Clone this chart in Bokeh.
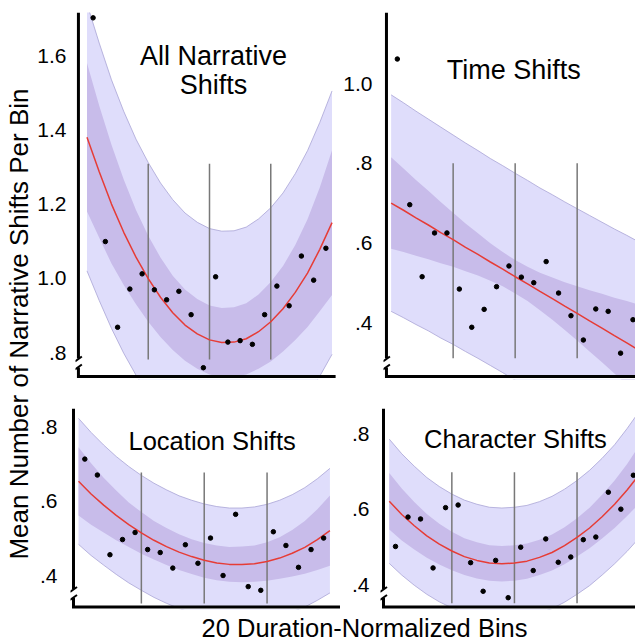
import math
from bokeh.plotting import figure
from bokeh.layouts import row, column
from bokeh.models import Range1d, FixedTicker, CustomJSTickFormatter
from bokeh.embed import file_html
from bokeh.resources import INLINE
from bokeh.core.properties import value

# ------------------------------------------------------------------ data
bins = list(range(1, 21))
curve_bins = [0.5, 1.5, 2.5, 3.5, 4.5, 5.5, 6.5, 7.5, 8.5, 9.5, 10.5,
              11.5, 12.5, 13.5, 14.5, 15.5, 16.5, 17.5, 18.5, 19.5, 20.5]
quarter_splits = [5.5, 10.5, 15.5]

all_means = [1.702, 1.099, 0.868, 0.971, 1.012, 0.969, 0.942, 0.965, 0.902, 0.759,
             1.004, 0.828, 0.832, 0.822, 0.902, 0.979, 0.926, 1.060, 0.995, 1.081]
all_fit = [1.380, 1.287, 1.200, 1.124, 1.057, 0.999, 0.949, 0.907, 0.874, 0.850, 0.834,
           0.827, 0.828, 0.837, 0.856, 0.883, 0.918, 0.962, 1.014, 1.078, 1.150]
all_ci_lo = [1.180, 1.109, 1.040, 0.982, 0.930, 0.883, 0.842, 0.807, 0.778, 0.756, 0.741,
             0.734, 0.734, 0.741, 0.756, 0.776, 0.803, 0.834, 0.869, 0.911, 0.955]
all_ci_hi = [1.580, 1.465, 1.360, 1.266, 1.184, 1.115, 1.056, 1.007, 0.970, 0.944, 0.927,
             0.920, 0.922, 0.933, 0.956, 0.990, 1.033, 1.090, 1.159, 1.245, 1.345]
all_pi_lo = [1.020, 0.940, 0.865, 0.798, 0.739, 0.686, 0.641, 0.602, 0.572, 0.549, 0.534,
             0.527, 0.528, 0.536, 0.552, 0.576, 0.606, 0.642, 0.684, 0.736, 0.795]
all_pi_hi = [1.740, 1.634, 1.535, 1.450, 1.375, 1.312, 1.257, 1.212, 1.176, 1.151, 1.134,
             1.127, 1.128, 1.138, 1.160, 1.190, 1.230, 1.282, 1.344, 1.420, 1.505]
all_ticks = [0.8, 1.0, 1.2, 1.4, 1.6]
all_split_span = [0.781, 1.309]
all_title = ["All Narrative", "Shifts"]

time_means = [1.062, 0.696, 0.515, 0.625, 0.625, 0.484, 0.388, 0.433, 0.490, 0.542,
              0.514, 0.500, 0.553, 0.474, 0.417, 0.356, 0.434, 0.428, 0.323, 0.407]
time_fit = [0.700, 0.682, 0.663, 0.645, 0.626, 0.608, 0.589, 0.571, 0.552, 0.534, 0.515,
            0.497, 0.478, 0.460, 0.441, 0.423, 0.404, 0.386, 0.367, 0.349, 0.330]
time_ci_lo = [0.585, 0.577, 0.568, 0.559, 0.549, 0.540, 0.529, 0.518, 0.505, 0.491, 0.473,
              0.454, 0.431, 0.407, 0.381, 0.355, 0.327, 0.300, 0.272, 0.244, 0.215]
time_ci_hi = [0.815, 0.787, 0.758, 0.731, 0.703, 0.676, 0.649, 0.624, 0.599, 0.577, 0.557,
              0.540, 0.525, 0.513, 0.501, 0.491, 0.481, 0.472, 0.462, 0.454, 0.445]
time_pi_lo = [0.428, 0.412, 0.395, 0.379, 0.361, 0.345, 0.327, 0.310, 0.292, 0.274, 0.255,
              0.237, 0.218, 0.199, 0.179, 0.160, 0.139, 0.120, 0.099, 0.079, 0.058]
time_pi_hi = [0.972, 0.952, 0.931, 0.911, 0.891, 0.871, 0.851, 0.832, 0.812, 0.794, 0.775,
              0.757, 0.738, 0.721, 0.703, 0.686, 0.669, 0.652, 0.635, 0.619, 0.602]
time_ticks = [0.4, 0.6, 0.8, 1.0]
time_split_span = [0.310, 0.800]
time_title = ["Time Shifts"]

loc_means = [0.714, 0.671, 0.456, 0.497, 0.516, 0.470, 0.462, 0.420, 0.483, 0.433,
             0.501, 0.400, 0.565, 0.370, 0.360, 0.518, 0.481, 0.422, 0.470, 0.501]
loc_fit = [0.654, 0.620, 0.590, 0.562, 0.537, 0.515, 0.495, 0.478, 0.463, 0.451, 0.441,
           0.434, 0.430, 0.430, 0.432, 0.438, 0.447, 0.460, 0.476, 0.497, 0.521]
loc_ci_lo = [0.562, 0.537, 0.516, 0.495, 0.477, 0.459, 0.443, 0.428, 0.415, 0.404, 0.394,
             0.387, 0.383, 0.382, 0.383, 0.386, 0.391, 0.397, 0.405, 0.415, 0.426]
loc_ci_hi = [0.746, 0.703, 0.664, 0.629, 0.597, 0.571, 0.547, 0.528, 0.511, 0.498, 0.488,
             0.481, 0.477, 0.478, 0.481, 0.490, 0.503, 0.523, 0.547, 0.579, 0.616]
loc_pi_lo = [0.484, 0.454, 0.428, 0.403, 0.380, 0.360, 0.341, 0.325, 0.311, 0.299, 0.289,
             0.282, 0.278, 0.278, 0.279, 0.284, 0.291, 0.302, 0.315, 0.333, 0.353]
loc_pi_hi = [0.824, 0.786, 0.752, 0.721, 0.694, 0.670, 0.649, 0.631, 0.615, 0.603, 0.593,
             0.586, 0.582, 0.582, 0.585, 0.592, 0.603, 0.618, 0.637, 0.661, 0.689]
loc_ticks = [0.4, 0.6, 0.8]
loc_split_span = [0.3245, 0.678]
loc_title = ["Location Shifts"]

char_means = [0.501, 0.579, 0.574, 0.444, 0.604, 0.611, 0.458, 0.382, 0.464, 0.365,
              0.499, 0.437, 0.521, 0.459, 0.473, 0.519, 0.526, 0.645, 0.600, 0.690]
char_fit = [0.621, 0.586, 0.556, 0.529, 0.507, 0.489, 0.474, 0.464, 0.457, 0.455, 0.457,
            0.462, 0.472, 0.485, 0.503, 0.525, 0.550, 0.580, 0.613, 0.651, 0.693]
char_ci_lo = [0.546, 0.517, 0.493, 0.471, 0.453, 0.438, 0.425, 0.416, 0.410, 0.408, 0.410,
              0.415, 0.425, 0.437, 0.454, 0.474, 0.496, 0.522, 0.550, 0.582, 0.616]
char_ci_hi = [0.696, 0.655, 0.619, 0.587, 0.561, 0.540, 0.523, 0.512, 0.504, 0.502, 0.504,
              0.509, 0.519, 0.533, 0.552, 0.576, 0.604, 0.638, 0.676, 0.720, 0.770]
char_pi_lo = [0.456, 0.425, 0.398, 0.374, 0.354, 0.338, 0.324, 0.315, 0.309, 0.307, 0.309,
              0.314, 0.324, 0.336, 0.353, 0.374, 0.397, 0.425, 0.455, 0.488, 0.525]
char_pi_hi = [0.786, 0.747, 0.714, 0.684, 0.660, 0.640, 0.624, 0.613, 0.605, 0.603, 0.605,
              0.610, 0.620, 0.634, 0.653, 0.676, 0.703, 0.735, 0.771, 0.814, 0.861]
char_ticks = [0.4, 0.6, 0.8]
char_split_span = [0.350, 0.698]
char_title = ["Character Shifts"]

y_label = "Mean Number of Narrative Shifts Per Bin"
x_label = "20 Duration-Normalized Bins"

# ------------------------------------------------------------------ styles
FONT = "Liberation Sans"
LIGHT = "#dfddfb"
DARK = "#c8bcea"
EDGE = "#aaa5d6"
RED = "#e63c36"
SPLIT = "#787878"


def make_panel(g, means, fit, ci_lo, ci_hi, pi_lo, pi_hi, ticks, split_span,
               title_lines, title_size):
    fl, ft, fr, fb = g["frame"]
    ox, oy, w, h = g["fig"]
    x0 = 1 + (fl - g["bin1_px"]) / g["ppb"]
    x1 = 1 + (fr - g["bin1_px"]) / g["ppb"]
    y1 = g["ref_v"] + (g["ref_py"] - ft) / g["ppv"]
    y0 = g["ref_v"] - (fb - g["ref_py"]) / g["ppv"]

    def X(px):
        return x0 + (px - fl) / (fr - fl) * (x1 - x0)

    def Y(py):
        return y1 - (py - ft) / (fb - ft) * (y1 - y0)

    p = figure(width=w, height=h, x_range=Range1d(x0, x1), y_range=Range1d(y0, y1),
               output_backend="svg", toolbar_location=None, x_axis_location=None,
               min_border_left=fl - ox, min_border_right=ox + w - fr,
               min_border_top=ft - oy, min_border_bottom=oy + h - fb)
    p.outline_line_color = None
    p.grid.visible = False
    p.background_fill_color = "white"
    p.border_fill_color = "white"

    ax = p.yaxis[0]
    ax.ticker = FixedTicker(ticks=ticks)
    ax.formatter = CustomJSTickFormatter(
        code="const s = tick.toFixed(1); return tick < 0.999 ? s.substring(1) : s;")
    ax.axis_line_color = None
    ax.major_tick_line_color = None
    ax.minor_tick_line_color = None
    ax.major_label_text_font = FONT
    ax.major_label_text_font_size = "21px"
    ax.major_label_text_color = "black"
    ax.major_label_standoff = g["standoff"]

    # bands
    p.varea(x=curve_bins, y1=pi_lo, y2=pi_hi, fill_color=LIGHT, fill_alpha=1.0)
    p.line(curve_bins, pi_hi, line_color=EDGE, line_width=0.8)
    p.line(curve_bins, pi_lo, line_color=EDGE, line_width=0.8)
    p.varea(x=curve_bins, y1=ci_lo, y2=ci_hi, fill_color=DARK, fill_alpha=1.0)

    # quarter dividers
    p.segment(x0=quarter_splits, x1=quarter_splits,
              y0=[split_span[0]] * 3, y1=[split_span[1]] * 3,
              line_color=SPLIT, line_width=1.5)

    # fit line and points
    p.line(curve_bins, fit, line_color=RED, line_width=1.5)
    p.scatter(bins, means, size=4.5, fill_color="black", line_color="black")

    # title
    tx = [g["title_x"]] * len(title_lines)
    p.text(x=tx, y=g["title_y"], text=title_lines, text_font=value(FONT),
           text_font_size=title_size, text_align="center", text_baseline="middle",
           text_color="black")

    # white strip below the x axis, then drawn axes with break mark
    axp, ayp, xend = g["axis"]
    p.quad(left=[x0], right=[x1], bottom=[y0], top=[Y(ayp)],
           fill_color="white", line_color=None)
    p.line([X(axp), X(axp)], [y1, Y(ayp - 18)], line_color="black", line_width=3)
    p.line([X(axp), X(axp), X(xend)], [Y(ayp - 9), Y(ayp), Y(ayp)],
           line_color="black", line_width=3, line_join="miter")
    p.segment(x0=[X(axp - 3.5), X(axp - 3.5)], x1=[X(axp + 3.5), X(axp + 3.5)],
              y0=[Y(ayp - 15), Y(ayp - 7)], y1=[Y(ayp - 20), Y(ayp - 12)],
              line_color="black", line_width=2)
    return p


g1 = dict(fig=(34, 0, 306, 388), frame=(69, 12, 340, 379), bin1_px=87, ppb=12.53,
          ref_v=0.8, ref_py=352, ppv=371, standoff=3, axis=(72, 376, 335),
          title_x=10.82, title_y=[1.600, 1.520])
g2 = dict(fig=(340, 0, 295, 388), frame=(380, 12, 635, 379), bin1_px=394, ppb=12.55,
          ref_v=0.4, ref_py=322, ppv=398, standoff=5, axis=(383, 376, 635),
          title_x=10.38, title_y=[1.035])
g3 = dict(fig=(34, 388, 306, 224), frame=(70, 408, 340, 609), bin1_px=84.3, ppb=12.57,
          ref_v=0.4, ref_py=575, ppv=370.7, standoff=7, axis=(73, 606.5, 340),
          title_x=11.13, title_y=[0.764])
g4 = dict(fig=(340, 388, 295, 224), frame=(380, 408, 635, 609), bin1_px=395, ppb=12.52,
          ref_v=0.4, ref_py=584, ppv=376.7, standoff=5, axis=(383, 606.5, 635),
          title_x=10.58, title_y=[0.787])

p1 = make_panel(g1, all_means, all_fit, all_ci_lo, all_ci_hi, all_pi_lo, all_pi_hi,
                all_ticks, all_split_span, all_title, "27px")
p2 = make_panel(g2, time_means, time_fit, time_ci_lo, time_ci_hi, time_pi_lo, time_pi_hi,
                time_ticks, time_split_span, time_title, "27px")
p3 = make_panel(g3, loc_means, loc_fit, loc_ci_lo, loc_ci_hi, loc_pi_lo, loc_pi_hi,
                loc_ticks, loc_split_span, loc_title, "25.5px")
p4 = make_panel(g4, char_means, char_fit, char_ci_lo, char_ci_hi, char_pi_lo, char_pi_hi,
                char_ticks, char_split_span, char_title, "25.5px")


def blank(w, h):
    f = figure(width=w, height=h, x_range=Range1d(0, w), y_range=Range1d(0, h),
               output_backend="svg", toolbar_location=None,
               x_axis_location=None, y_axis_location=None,
               min_border=0)
    f.outline_line_color = None
    f.grid.visible = False
    return f


ylab = blank(34, 641)
ylab.text(x=[18], y=[317.5], text=[y_label], angle=math.pi / 2, text_font=value(FONT),
          text_font_size="26px", text_align="center", text_baseline="middle",
          text_color="black")

xlab = blank(601, 29)
xlab.text(x=[330], y=[14], text=[x_label], text_font=value(FONT),
          text_font_size="25.5px", text_align="center", text_baseline="middle",
          text_color="black")

layout = row(ylab, column(row(p1, p2), row(p3, p4), xlab))

open("out.html", "w").write(file_html(layout, INLINE))
